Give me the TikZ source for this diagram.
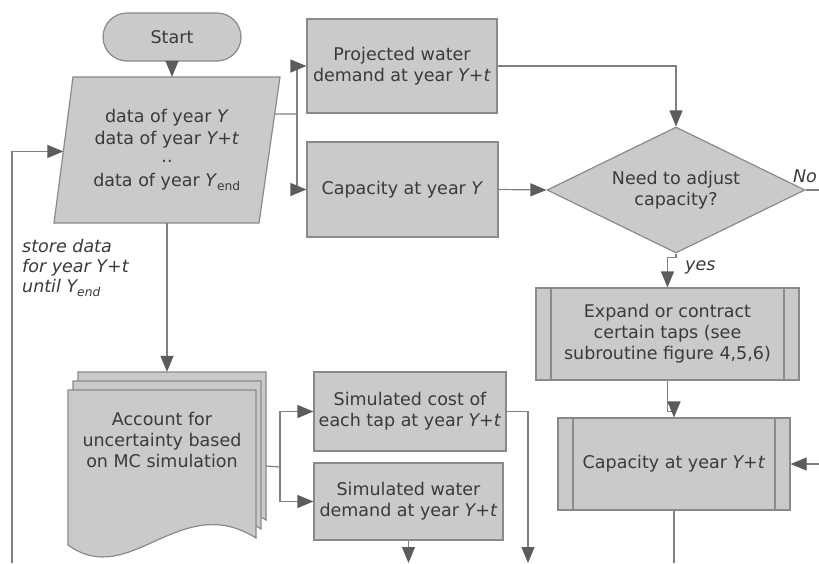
\documentclass[tikz,border=0pt]{standalone}
\usepackage{fontspec}
\setmainfont{DejaVu Sans}
\usetikzlibrary{arrows.meta,shapes.geometric,calc}
\definecolor{boxfill}{HTML}{CACACA}
\definecolor{boxline}{HTML}{8A8A8A}
\definecolor{connc}{HTML}{808080}
\definecolor{tipc}{HTML}{5C5C5C}
\definecolor{txt}{HTML}{3A3A3A}
\begin{document}
\begin{tikzpicture}[x=1pt,y=-1pt,
  font=\fontsize{17.5}{21}\selectfont, text=txt,
  box/.style={draw=boxline, fill=boxfill, line width=1.2pt, inner sep=0pt, align=center},
  sub/.style={box, path picture={
     \draw[boxline, line width=1.2pt]
       ([xshift=15pt]path picture bounding box.north west) -- ([xshift=15pt]path picture bounding box.south west)
       ([xshift=-15pt]path picture bounding box.north east) -- ([xshift=-15pt]path picture bounding box.south east);}},
  shapefill/.style={draw=boxline, fill=boxfill, line width=1.2pt},
  conn/.style={draw=connc, line width=1.2pt},
  arr/.style={conn, -{Triangle[length=16pt,width=13pt,color=tipc]}},
  lbl/.style={font=\fontsize{17.5}{20}\selectfont\itshape, inner sep=0pt}
]
\useasboundingbox (0,0) rectangle (819,563);

% document stack (multi-document shape)
\foreach \dx/\dy in {10/-18, 5/-9, 0/0}{
  \draw[shapefill, shift={(\dx,\dy)}]
    (68,390) -- (256,390) -- (256,538) .. controls (180,490) and (130,590) .. (68,545) -- cycle;
}
\node[minimum width=198pt, minimum height=188pt, inner sep=0pt] (stack) at (167,466) {};
\node[align=center, inner sep=0pt] (doclabel) at (162,440) {Account for\\uncertainty based\\on MC simulation};

% data (parallelogram drawn around its text node)
\coordinate (dTL) at (73,77);
\coordinate (dTR) at (280,77);
\coordinate (dBR) at (259,223);
\coordinate (dBL) at (54,223);
\draw[shapefill] (dTL) -- (dTR) -- (dBR) -- (dBL) -- cycle;
\node[align=center, inner sep=0pt, minimum width=226pt, minimum height=146pt] (data) at (167,150)
  {data of year \textit{Y}\\[1pt]data of year \textit{Y+t}\\[-3pt]..\\[3pt]data of year \textit{Y}\textsubscript{end}};
\coordinate (dW) at ($(dTL)!0.51!(dBL)$);
\coordinate (dE) at ($(dTR)!0.253!(dBR)$);

\node[box, rounded corners=24pt, minimum width=138pt, minimum height=48pt] (start) at (172,37) {Start};
\node[box, minimum width=190pt, minimum height=94pt] (proj) at (402,66) {Projected water\\demand at year \textit{Y+t}};
\node[box, minimum width=191pt, minimum height=95pt] (capy) at (402.5,189.5) {Capacity at year \textit{Y}};
\node[box, shape=diamond, aspect=2.05, minimum width=258pt, minimum height=126pt] (dia) at (676,190) {Need to adjust\\capacity?};
\node[sub, minimum width=263pt, minimum height=92pt] (expand) at (667.5,334) {Expand or contract\\certain taps (see\\subroutine figure 4,5,6)};
\node[sub, minimum width=232pt, minimum height=92pt] (capyt) at (674,464) {Capacity at year \textit{Y+t}};
\node[box, minimum width=192pt, minimum height=79pt] (simcost) at (410,411.5) {Simulated cost of\\each tap at year \textit{Y+t}};
\node[box, minimum width=189pt, minimum height=77pt] (simwater) at (408.5,501.5) {Simulated water\\demand at year \textit{Y+t}};

\node[lbl, align=left, anchor=west] (note) at (22,268) {store data\\for year Y+t\\until Y\textsubscript{end}};
\node[lbl, anchor=west] (yes) at (685,267) {yes};
\node[lbl, anchor=east] (no) at (817,176) {No};

% free ends
\coordinate (j1) at (297,114);
\coordinate (j2) at (280,467);
\coordinate (noend) at (819,190);
\coordinate (rin) at (819,464);
\coordinate (cbot) at (674,563);
\coordinate (lbot) at (12,563);
\coordinate (swb) at (408.5,563);
\coordinate (scb) at (528,563);

% connectors
\draw[arr] (start.south) -- (start.south |- data.north);
\draw[conn] (dE) -- (j1);
\draw[arr] (j1) |- (proj.west);
\draw[arr] (j1) |- (capy.west);
\draw[arr] (capy.east) -- (dia.west);
\draw[arr] (proj.east) -| (dia.north);
\draw[conn] (dia.east) -- (noend);
\draw[arr] (dia.south) -- ++(0,4) -| (expand.north);
\draw[arr] (expand.south) -- ($(expand.south)!0.85!(expand.south |- capyt.north)$) -| (capyt.north);
\draw[arr] (rin) -- (capyt.east);
\draw[conn] (capyt.south) -- (cbot);
\draw[arr] (lbot) |- (dW);
\draw[arr] (data.south) -- (data.south |- stack.north);
\draw[conn] (stack.east) -- (j2);
\draw[arr] (j2) |- (simcost.west);
\draw[arr] (j2) |- (simwater.west);
\draw[arr] (simwater.south) -- (swb);
\draw[arr] (simcost.east) -| (scb);
\end{tikzpicture}
\end{document}
